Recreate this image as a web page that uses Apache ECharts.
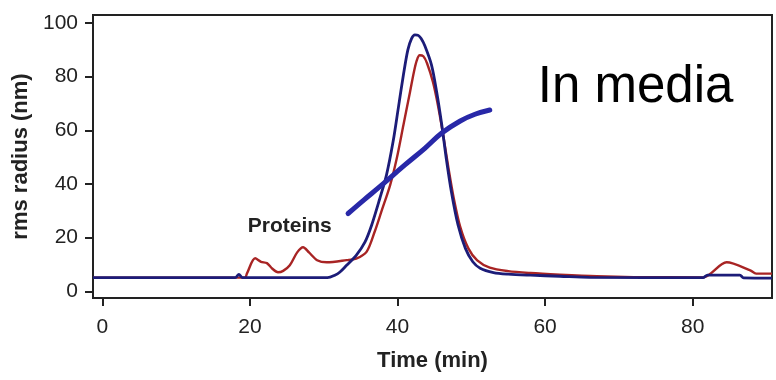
<!DOCTYPE html>
<html>
<head>
<meta charset="utf-8">
<script src="https://cdn.jsdelivr.net/npm/echarts@6/dist/echarts.min.js"></script>
<style>
html,body{margin:0;padding:0;background:#fff;}
#chart{width:776px;height:380px;}
</style>
</head>
<body>
<div id="chart"></div>
<script>
// Blue trace (time in min, value)
const blueTime  = [-1.27, 18.0, 18.5, 19.0, 30.5, 31.5, 32.2, 33.1, 34.4, 35.6, 36.5, 37.6, 38.5, 39.4, 40.1, 40.8, 41.4, 41.9, 42.35, 42.8, 43.2, 43.7, 44.6, 45.3, 46.0, 46.6, 47.3, 48.2, 49.2, 50.2, 51.2, 53.0, 55.0, 58.0, 62.0, 66.0, 81.4, 82.0, 86.4, 86.9, 90.75];
const blueValue = [5.1, 5.1, 6.3, 5.1, 5.1, 6.0, 7.2, 9.7, 13.4, 18.4, 24.7, 34.6, 43.3, 55.8, 68.2, 80.7, 90.0, 94.2, 95.6, 95.4, 94.2, 91.5, 84.4, 74.4, 62.0, 49.6, 37.1, 24.7, 16.0, 11.0, 8.6, 7.0, 6.4, 6.0, 5.6, 5.2, 5.1, 6.0, 6.0, 5.0, 4.9];
// Red trace
const redTime  = [-1.27, 19.3, 19.6, 20.7, 21.5, 22.3, 23.0, 23.8, 24.5, 25.4, 26.4, 27.2, 28.0, 29.1, 30.4, 33.1, 34.4, 35.8, 36.9, 37.8, 39.0, 39.9, 40.8, 41.7, 42.2, 42.6, 43.0, 43.5, 44.0, 44.8, 45.5, 46.2, 46.9, 47.6, 48.5, 49.6, 50.8, 52.5, 55.0, 58.0, 62.0, 67.0, 72.0, 81.4, 84.6, 87.8, 88.6, 90.75];
const redValue = [5.1, 5.1, 6.7, 12.3, 11.0, 10.5, 8.5, 7.1, 7.6, 9.7, 14.5, 16.4, 14.5, 11.6, 10.8, 11.6, 12.2, 14.7, 22.2, 29.6, 39.6, 49.6, 62.0, 74.4, 81.5, 86.0, 88.0, 87.6, 85.0, 78.0, 69.0, 58.0, 46.0, 35.0, 24.0, 16.0, 11.5, 8.8, 7.5, 6.8, 6.2, 5.6, 5.3, 5.2, 10.8, 7.8, 6.6, 6.6];
// rms radius fit (thick line)
const radiusTime  = [33.3, 35.5, 37.6, 41.0, 43.7, 46.0, 48.5, 50.5, 52.5];
const radiusValue = [29.0, 34.2, 39.0, 47.1, 53.3, 59.0, 63.5, 66.0, 67.6];
// Axis ticks
const xTicks = [0, 20, 40, 60, 80];
const yTicks = [0, 20, 40, 60, 80, 100];

const zip = (a, b) => a.map((v, i) => [v, b[i]]);
const FONT = "'Liberation Sans', Arial, sans-serif";
const INK = '#222';

const chart = echarts.init(document.getElementById('chart'), null, {renderer: 'canvas'});
chart.setOption({
  animation: false,
  backgroundColor: '#fff',
  grid: {left: 93, right: 4, top: 15, bottom: 82, show: true, borderColor: INK, borderWidth: 2},
  xAxis: {
    type: 'value', min: -1.27, max: 90.75,
    name: 'Time (min)', nameLocation: 'middle', nameGap: 52,
    nameTextStyle: {fontFamily: FONT, fontSize: 22, fontWeight: 'bold', color: INK},
    axisLine: {show: true, onZero: false, lineStyle: {color: INK, width: 2}},
    axisTick: {show: true, inside: false, length: 8, lineStyle: {color: INK, width: 2}, customValues: xTicks},
    axisLabel: {fontFamily: FONT, fontSize: 21, color: INK, margin: 19, customValues: xTicks},
    splitLine: {show: false}
  },
  yAxis: {
    type: 'value', min: -2.5, max: 103,
    name: 'rms radius (nm)', nameLocation: 'middle', nameGap: 59,
    nameTextStyle: {fontFamily: FONT, fontSize: 22, fontWeight: 'bold', color: INK},
    axisLine: {show: true, onZero: false, lineStyle: {color: INK, width: 2}},
    axisTick: {show: true, inside: false, length: 8, lineStyle: {color: INK, width: 2}, customValues: yTicks},
    axisLabel: {fontFamily: FONT, fontSize: 21, color: INK, margin: 15, customValues: yTicks},
    splitLine: {show: false}
  },
  series: [
    {type: 'line', data: zip(redTime, redValue), smooth: 0.3, showSymbol: false, z: 2,
     lineStyle: {color: '#a82424', width: 2.4}},
    {type: 'line', data: zip(blueTime, blueValue), smooth: 0.3, showSymbol: false, z: 3,
     lineStyle: {color: '#1c1c78', width: 2.8}},
    {type: 'line', data: zip(radiusTime, radiusValue), smooth: 0.4, showSymbol: false, z: 4,
     lineStyle: {color: '#2828a8', width: 5, cap: 'round'}}
  ]
});

const pProt = chart.convertToPixel({gridIndex: 0}, [19.7, 24.3]);
const pMedia = chart.convertToPixel({gridIndex: 0}, [59.0, 75.8]);
chart.setOption({
  graphic: [
    {type: 'text', x: pProt[0], y: pProt[1], z: 10,
     style: {text: 'Proteins', fontFamily: FONT, fontSize: 21, fontWeight: 'bold', fill: INK, textAlign: 'left', textVerticalAlign: 'middle'}},
    {type: 'text', x: pMedia[0], y: pMedia[1], z: 10,
     style: {text: 'In media', fontFamily: FONT, fontSize: 51, fontWeight: 'normal', fill: '#000', textAlign: 'left', textVerticalAlign: 'middle'}}
  ]
});
</script>
</body>
</html>
